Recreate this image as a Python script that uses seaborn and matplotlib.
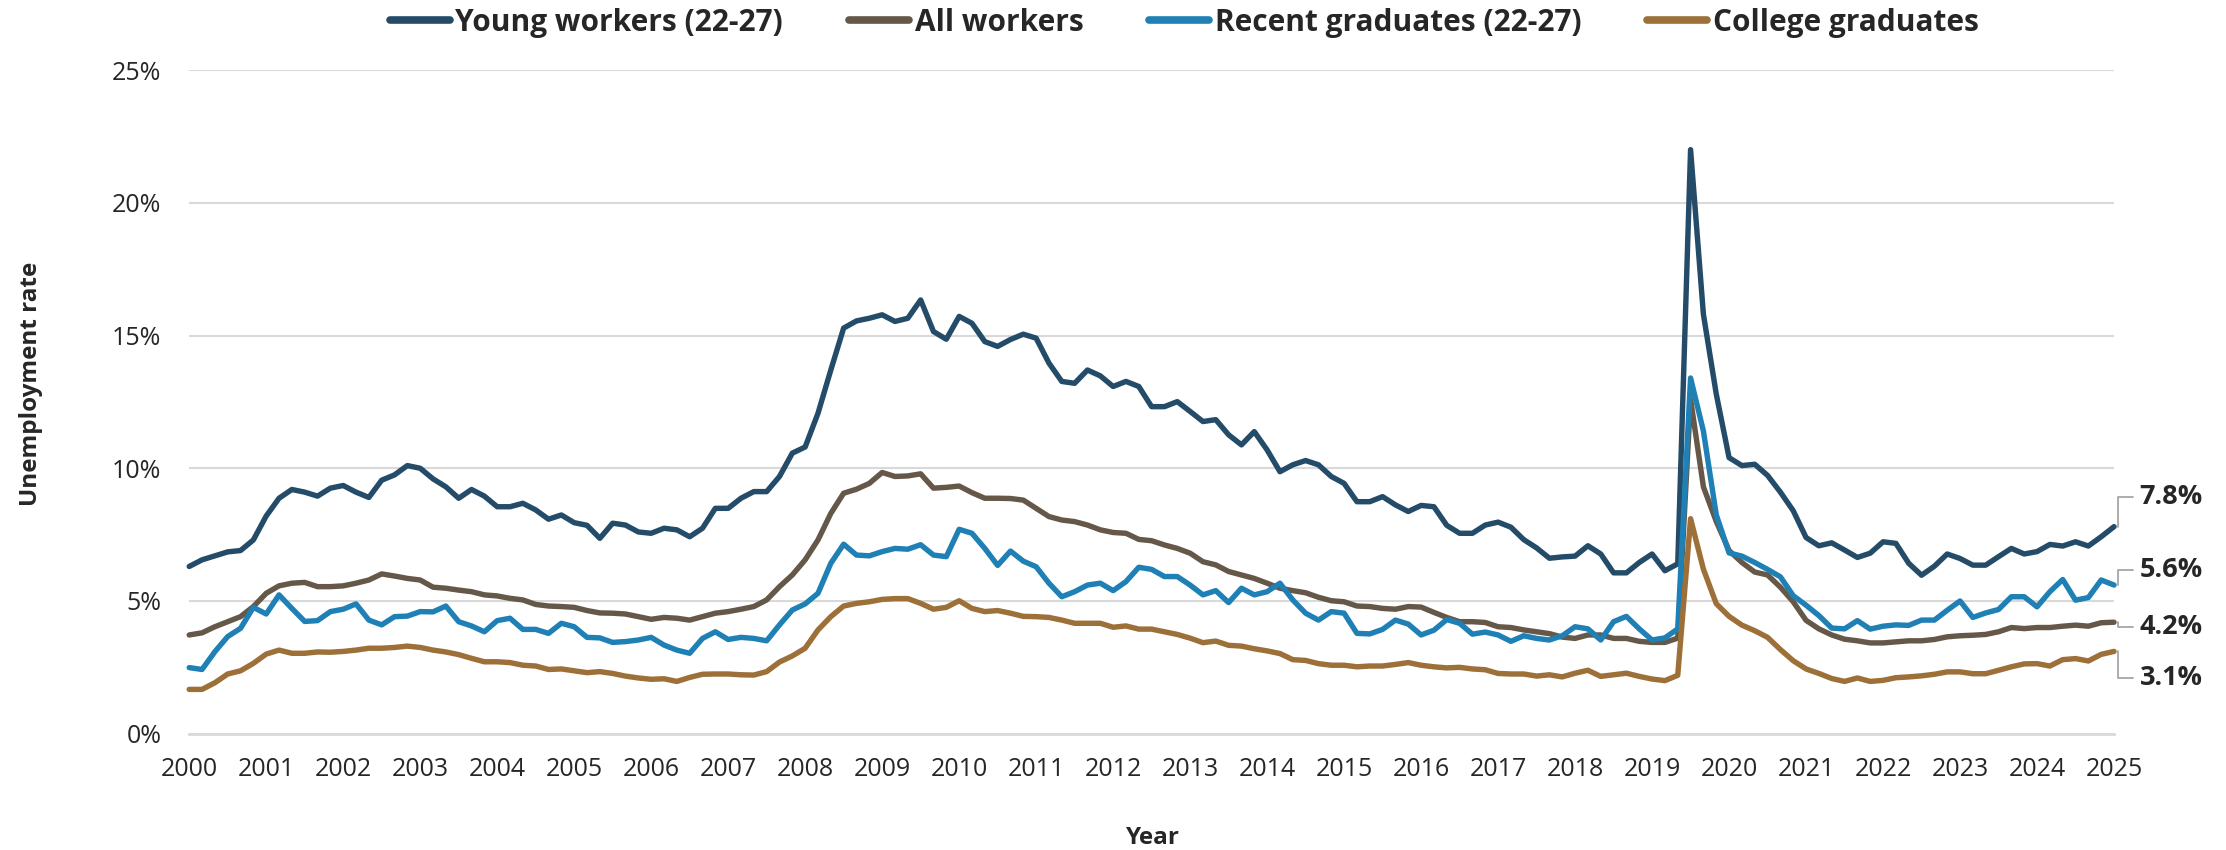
import numpy as np
import pandas as pd
import matplotlib
matplotlib.use("Agg")
import matplotlib.pyplot as plt
from matplotlib.lines import Line2D
import seaborn as sns

# fechas cada dos meses, ene-2000 a ene-2025
months = pd.date_range("2000-01-01", periods=151, freq="2MS")
years = np.asarray(months.year + (months.month - 1) / 12, dtype=float)

young_workers = [
    6.3, 6.55, 6.7, 6.85, 6.9, 7.3, 8.2, 8.87, 9.2, 9.1, 8.95, 9.25, 9.35, 9.1, 8.9, 9.55,
    9.75, 10.1, 10.0, 9.6, 9.3, 8.87, 9.2, 8.95, 8.55, 8.55, 8.68, 8.43, 8.08, 8.24, 7.95, 7.85,
    7.36, 7.93, 7.86, 7.6, 7.55, 7.74, 7.68, 7.42, 7.74, 8.49, 8.49, 8.87, 9.12, 9.12, 9.69, 10.57,
    10.8, 12.07, 13.7, 15.28, 15.55, 15.65, 15.78, 15.53, 15.65, 16.34, 15.15, 14.86, 15.72, 15.46, 14.77, 14.59,
    14.85, 15.05, 14.9, 13.96, 13.27, 13.2, 13.7, 13.48, 13.08, 13.27, 13.08, 12.32, 12.32, 12.51, 12.14, 11.76,
    11.83, 11.26, 10.88, 11.38, 10.69, 9.87, 10.13, 10.29, 10.13, 9.69, 9.43, 8.74, 8.74, 8.93, 8.62, 8.37,
    8.6, 8.55, 7.85, 7.55, 7.55, 7.86, 7.97, 7.78, 7.31, 7.0, 6.61, 6.66, 6.69, 7.08, 6.77, 6.06,
    6.06, 6.45, 6.77, 6.14, 6.4, 22.0, 15.8, 12.8, 10.4, 10.1, 10.15, 9.73, 9.1, 8.4, 7.39, 7.08,
    7.19, 6.92, 6.64, 6.8, 7.23, 7.17, 6.42, 5.97, 6.31, 6.77, 6.6, 6.35, 6.35, 6.67, 6.98, 6.77,
    6.86, 7.13, 7.07, 7.23, 7.07, 7.42, 7.8,
]
all_workers = [
    3.72, 3.8, 4.03, 4.22, 4.41, 4.79, 5.29, 5.57, 5.67, 5.7, 5.54, 5.54, 5.57, 5.67, 5.79, 6.02,
    5.94, 5.85, 5.79, 5.52, 5.48, 5.41, 5.35, 5.23, 5.19, 5.1, 5.04, 4.87, 4.81, 4.79, 4.76, 4.64,
    4.55, 4.54, 4.51, 4.41, 4.31, 4.38, 4.35, 4.28, 4.41, 4.54, 4.6, 4.69, 4.79, 5.04, 5.54, 5.98,
    6.55, 7.3, 8.3, 9.06, 9.21, 9.43, 9.84, 9.69, 9.71, 9.79, 9.25, 9.28, 9.33, 9.08, 8.87, 8.87,
    8.86, 8.8, 8.49, 8.18, 8.05, 7.99, 7.86, 7.68, 7.58, 7.55, 7.32, 7.27, 7.11, 6.98, 6.8, 6.48,
    6.36, 6.11, 5.98, 5.85, 5.67, 5.48, 5.39, 5.31, 5.14, 5.01, 4.97, 4.81, 4.79, 4.72, 4.69, 4.79,
    4.77, 4.57, 4.38, 4.22, 4.22, 4.19, 4.03, 4.0, 3.91, 3.84, 3.77, 3.64, 3.59, 3.72, 3.72, 3.59,
    3.59, 3.48, 3.44, 3.44, 3.6, 12.6, 9.3, 8.0, 6.9, 6.45, 6.09, 5.98, 5.52, 4.97, 4.27, 3.95,
    3.72, 3.56, 3.5, 3.42, 3.42, 3.46, 3.5, 3.5, 3.55, 3.65, 3.69, 3.71, 3.74, 3.84, 4.0, 3.96,
    4.0, 4.0, 4.05, 4.09, 4.05, 4.18, 4.2,
]
recent_grads = [
    2.49, 2.42, 3.09, 3.66, 3.97, 4.76, 4.51, 5.23, 4.72, 4.23, 4.26, 4.6, 4.69, 4.89, 4.28, 4.1,
    4.41, 4.43, 4.6, 4.59, 4.81, 4.22, 4.06, 3.84, 4.26, 4.35, 3.93, 3.93, 3.78, 4.16, 4.03, 3.63,
    3.61, 3.44, 3.47, 3.53, 3.63, 3.34, 3.15, 3.03, 3.59, 3.84, 3.55, 3.63, 3.59, 3.5, 4.1, 4.66,
    4.89, 5.29, 6.42, 7.14, 6.73, 6.7, 6.86, 6.98, 6.95, 7.12, 6.73, 6.67, 7.7, 7.55, 6.98, 6.34,
    6.88, 6.5, 6.29, 5.67, 5.16, 5.35, 5.6, 5.67, 5.39, 5.73, 6.27, 6.19, 5.92, 5.92, 5.6, 5.23,
    5.39, 4.94, 5.48, 5.23, 5.35, 5.67, 5.04, 4.54, 4.28, 4.6, 4.54, 3.78, 3.76, 3.93, 4.28, 4.13,
    3.72, 3.9, 4.3, 4.16, 3.75, 3.83, 3.72, 3.48, 3.69, 3.59, 3.53, 3.69, 4.03, 3.95, 3.53, 4.22,
    4.42, 3.95, 3.53, 3.61, 3.95, 13.4, 11.4, 8.25, 6.81, 6.69, 6.45, 6.19, 5.91, 5.2, 4.84, 4.45,
    3.98, 3.95, 4.26, 3.94, 4.05, 4.1, 4.08, 4.28, 4.28, 4.65, 5.0, 4.38, 4.55, 4.68, 5.16, 5.16,
    4.78, 5.35, 5.81, 5.03, 5.13, 5.79, 5.6,
]
college_grads = [
    1.67, 1.67, 1.92, 2.25, 2.37, 2.65, 3.0, 3.15, 3.03, 3.03, 3.08, 3.07, 3.1, 3.15, 3.22, 3.22,
    3.25, 3.3, 3.25, 3.15, 3.08, 2.98, 2.84, 2.71, 2.71, 2.68, 2.58, 2.55, 2.42, 2.44, 2.37, 2.3,
    2.34, 2.27, 2.17, 2.1, 2.05, 2.07, 1.97, 2.12, 2.24, 2.25, 2.25, 2.22, 2.21, 2.34, 2.7, 2.93,
    3.22, 3.91, 4.41, 4.81, 4.91, 4.97, 5.06, 5.09, 5.09, 4.91, 4.69, 4.76, 5.01, 4.72, 4.6, 4.64,
    4.54, 4.42, 4.41, 4.38, 4.28, 4.16, 4.16, 4.16, 4.01, 4.06, 3.94, 3.94, 3.84, 3.74, 3.6, 3.43,
    3.49, 3.33, 3.3, 3.2, 3.12, 3.02, 2.79, 2.76, 2.64, 2.58, 2.58, 2.52, 2.55, 2.55, 2.61, 2.68,
    2.58, 2.52, 2.48, 2.5, 2.44, 2.41, 2.27, 2.25, 2.25, 2.17, 2.22, 2.14, 2.28, 2.39, 2.16, 2.22,
    2.28, 2.16, 2.06, 2.0, 2.2, 8.1, 6.2, 4.9, 4.42, 4.09, 3.88, 3.63, 3.17, 2.75, 2.44, 2.27,
    2.08, 1.97, 2.1, 1.97, 2.01, 2.11, 2.14, 2.18, 2.24, 2.33, 2.33, 2.26, 2.26, 2.39, 2.52, 2.63,
    2.64, 2.55, 2.79, 2.83, 2.74, 2.99, 3.1,
]

series_names = ["Young workers (22-27)", "All workers", "Recent graduates (22-27)", "College graduates"]
series_colors = ["#244c69", "#655849", "#1f80b6", "#9c7038"]
end_labels = ["7.8%", "4.2%", "5.6%", "3.1%"]
label_offsets = [1.12, -0.18, 0.57, -1.0]   # desplazamiento vertical de las etiquetas finales

df = pd.DataFrame({
    "year": np.tile(years, 4),
    "rate": young_workers + all_workers + recent_grads + college_grads,
    "series": np.repeat(series_names, len(years)),
})

sns.set_theme(style="white")
plt.rcParams["font.family"] = ["Open Sans", "DejaVu Sans"]

fig = plt.figure(figsize=(22.26, 8.5), dpi=100)
ax = fig.add_axes([0.085, 0.1368, 0.8647, 0.7808])

sns.lineplot(data=df, x="year", y="rate", hue="series", hue_order=series_names,
             palette=dict(zip(series_names, series_colors)), estimator=None,
             linewidth=3.9, legend=False, ax=ax)
for ln in ax.lines:
    ln.set_solid_joinstyle("round")
    ln.set_clip_on(False)

ax.set_xlim(2000, 2025)
ax.set_ylim(0, 25)
ax.set_xticks(range(2000, 2026))
ax.set_xticklabels([str(y) for y in range(2000, 2026)])
ax.set_yticks(range(0, 26, 5))
ax.set_yticklabels([f"{v}%" for v in range(0, 26, 5)])
ax.yaxis.grid(True, color="#d9d9d9", linewidth=1.5)
ax.set_axisbelow(True)
for s in ["top", "right", "left"]:
    ax.spines[s].set_visible(False)
ax.spines["bottom"].set_color("#d9d9d9")
ax.spines["bottom"].set_linewidth(2)
ax.tick_params(axis="x", length=8, width=1.5, color="#d9d9d9", pad=9, labelsize=18)
ax.tick_params(axis="y", length=0, pad=20, labelsize=18)
ax.set_xlabel("")
ax.set_ylabel("")

fig.text(0.0139, 0.548, "Unemployment rate", rotation=90, ha="center", va="center",
         fontsize=17.5, fontweight="bold")
fig.text(0.518, 0.014, "Year", ha="center", va="center", fontsize=17.5, fontweight="bold")

# etiquetas al final de cada serie
vals = [young_workers, all_workers, recent_grads, college_grads]
for v, lab, off in zip(vals, end_labels, label_offsets):
    y_end = v[-1]
    y_lab = y_end + off
    ax.plot([years[-1] + 0.05, years[-1] + 0.05, years[-1] + 0.24], [y_end, y_lab, y_lab],
            color="#a6a6a6", linewidth=1.3, clip_on=False)
    ax.text(years[-1] + 0.33, y_lab, lab, ha="left", va="center", fontsize=19.5,
            fontweight="bold", clip_on=False)

handles = [Line2D([0], [0], color=c, linewidth=5.5, solid_capstyle="round") for c in series_colors]
fig.legend(handles, series_names, loc="center", bbox_to_anchor=(0.532, 0.973), ncol=4,
           frameon=False, prop={"weight": "bold", "size": 21.5}, handlelength=2.0,
           handletextpad=0.2, columnspacing=2.2)

fig.savefig("out.png", dpi=100)
